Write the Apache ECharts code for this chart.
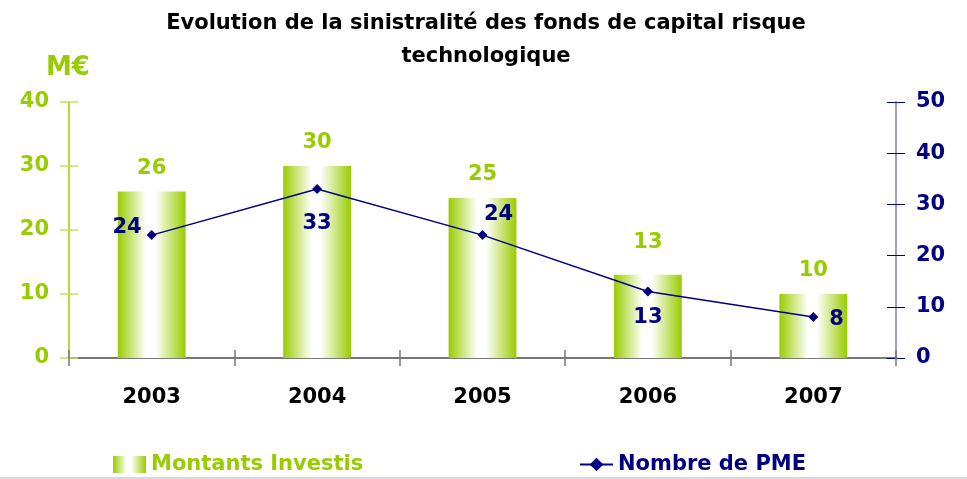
<!DOCTYPE html>
<html>
<head>
<meta charset="utf-8">
<script src="https://cdn.jsdelivr.net/npm/echarts@6/dist/echarts.min.js"></script>
<style>
html, body { margin: 0; padding: 0; background: #fff; }
#chart { width: 967px; height: 479px; }
</style>
</head>
<body>
<div id="chart"></div>
<script>
var years = ["2003", "2004", "2005", "2006", "2007"];
var montants = [26, 30, 25, 13, 10];
var nombrePme = [24, 33, 24, 13, 8];
var leftTicks = { min: 0, max: 40, interval: 10 };
var rightTicks = { min: 0, max: 50, interval: 10 };

// positions des étiquettes de la courbe, comme dans l'original
var lineLabelPos = [
  { position: "left", offset: [0, -8] },
  { position: "bottom", offset: [0, 14] },
  { position: "top", offset: [16, 0] },
  { position: "bottom", offset: [0, 6] },
  { position: "right", offset: [6, 3] }
];
var barLabelOffset = [0, 0, 0, -9, 0];

var GREEN = "#99cc00";
var NAVY = "#000080";
var FONT = "DejaVu Sans, Arial, sans-serif";

var chart = echarts.init(document.getElementById("chart"));

var barGradient = new echarts.graphic.LinearGradient(0, 0, 1, 0, [
  { offset: 0, color: "#99cc00" },
  { offset: 0.42, color: "#ffffff" },
  { offset: 0.55, color: "#ffffff" },
  { offset: 1, color: "#99cc00" }
]);

var option = {
  backgroundColor: "#fff",
  animation: false,
  title: {
    text: "Evolution de la sinistralité des fonds de capital risque\ntechnologique",
    left: 481,
    textAlign: "center",
    top: 2,
    textStyle: { fontFamily: FONT, fontSize: 21, fontWeight: "bold", color: "#000", lineHeight: 33 }
  },
  graphic: [
    {
      type: "text", left: 46, top: 55,
      style: { text: "M€", fill: GREEN, font: "bold 26px " + FONT }
    },
    {
      type: "line", shape: { x1: 0, y1: 478, x2: 967, y2: 478 },
      style: { stroke: "#d4dadd", lineWidth: 2 }
    }
  ],
  legend: [
    {
      data: [{ name: "Montants Investis", icon: "rect" }],
      left: 108, top: 449,
      itemWidth: 33, itemHeight: 17, itemGap: 6,
      selectedMode: false,
      textStyle: { fontFamily: FONT, fontSize: 21, fontWeight: "bold", color: GREEN }
    },
    {
      data: ["Nombre de PME"],
      left: 574, top: 449,
      itemWidth: 33, itemHeight: 17, itemGap: 6,
      selectedMode: false,
      textStyle: { fontFamily: FONT, fontSize: 21, fontWeight: "bold", color: NAVY }
    }
  ],
  grid: { left: 69, right: 71, top: 102, bottom: 121 },
  xAxis: [
    {
      type: "category",
      data: years,
      axisLine: { lineStyle: { color: "#777777", width: 2 } },
      axisTick: { show: true, length: 8, lineStyle: { color: "#777777", width: 1.5 } },
      axisLabel: { margin: 29, fontFamily: FONT, fontSize: 21, fontWeight: "bold", color: "#000" }
    },
    {
      type: "category",
      data: years,
      position: "bottom",
      axisLine: { show: false },
      axisTick: { show: true, inside: true, length: 8, lineStyle: { color: "#777777", width: 1.5 } },
      axisLabel: { show: false }
    }
  ],
  yAxis: [
    {
      type: "value",
      position: "left",
      min: leftTicks.min, max: leftTicks.max, interval: leftTicks.interval,
      splitLine: { show: false },
      axisLine: { show: true, lineStyle: { color: GREEN, width: 1.5 } },
      axisTick: { show: true, length: 9, lineStyle: { color: "#c4e05a", width: 1.5 } },
      axisLabel: { margin: 20, fontFamily: FONT, fontSize: 21, fontWeight: "bold", color: GREEN }
    },
    {
      type: "value",
      position: "right",
      min: rightTicks.min, max: rightTicks.max, interval: rightTicks.interval,
      splitLine: { show: false },
      axisLine: { show: true, lineStyle: { color: "#7b7bbf", width: 1.5 } },
      axisTick: { show: true, length: 9, lineStyle: { color: NAVY, width: 1 } },
      axisLabel: { margin: 20, fontFamily: FONT, fontSize: 21, fontWeight: "bold", color: NAVY }
    },
    {
      type: "value",
      position: "left",
      min: leftTicks.min, max: leftTicks.max, interval: leftTicks.interval,
      splitLine: { show: false },
      axisLine: { show: false },
      axisTick: { show: true, inside: true, length: 9, lineStyle: { color: "#c4e05a", width: 1.5 } },
      axisLabel: { show: false }
    },
    {
      type: "value",
      position: "right",
      min: rightTicks.min, max: rightTicks.max, interval: rightTicks.interval,
      splitLine: { show: false },
      axisLine: { show: false },
      axisTick: { show: true, inside: true, length: 9, lineStyle: { color: NAVY, width: 1 } },
      axisLabel: { show: false }
    }
  ],
  series: [
    {
      name: "Montants Investis",
      type: "bar",
      yAxisIndex: 0,
      barWidth: "41%",
      itemStyle: { color: barGradient },
      label: {
        show: true, position: "top", distance: 13,
        fontFamily: FONT, fontSize: 21, fontWeight: "bold", color: GREEN
      },
      data: montants.map(function (v, i) {
        return { value: v, label: { offset: [0, barLabelOffset[i]] } };
      }),
      z: 2
    },
    {
      name: "Nombre de PME",
      type: "line",
      yAxisIndex: 1,
      symbol: "diamond",
      symbolSize: 10,
      lineStyle: { color: NAVY, width: 1.5 },
      itemStyle: { color: NAVY },
      label: {
        show: true, distance: 5,
        fontFamily: FONT, fontSize: 21, fontWeight: "bold", color: NAVY
      },
      data: nombrePme.map(function (v, i) {
        return { value: v, label: lineLabelPos[i] };
      }),
      z: 3
    }
  ]
};

chart.setOption(option);
</script>
</body>
</html>
